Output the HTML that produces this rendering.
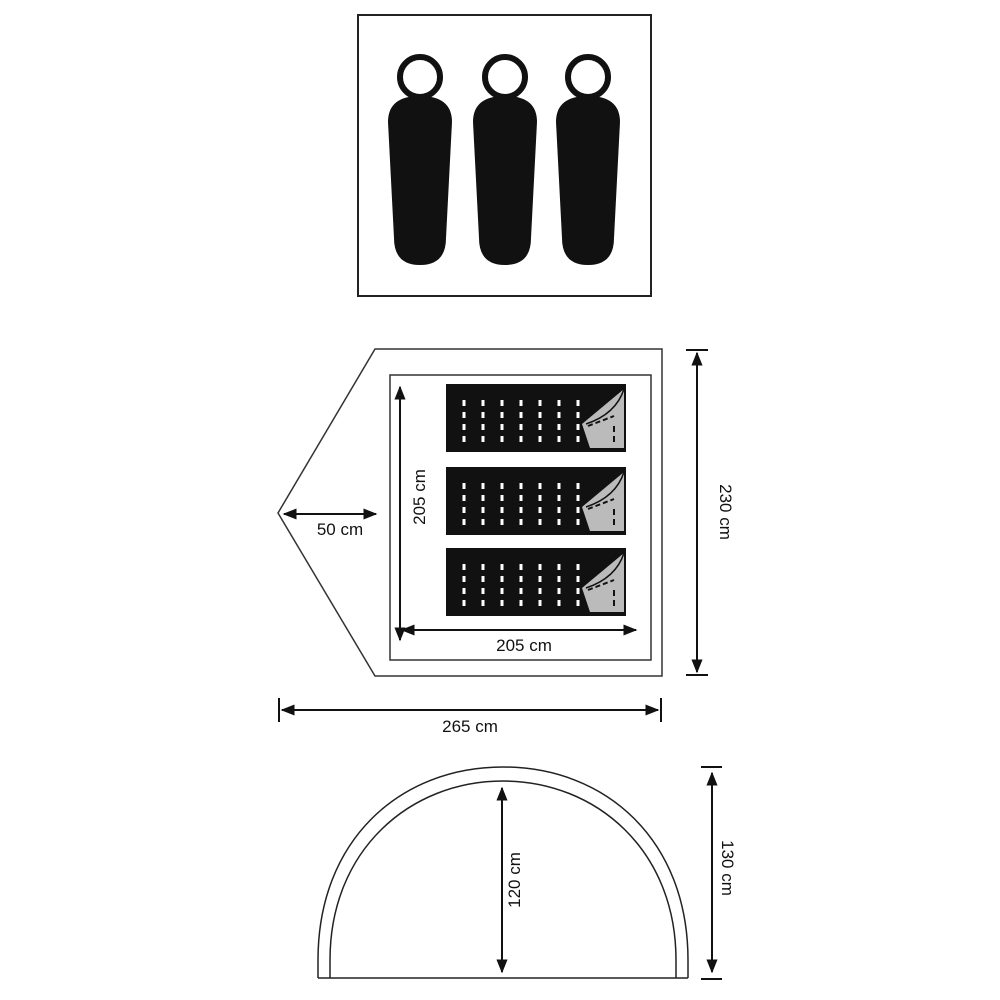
<!DOCTYPE html>
<html><head><style>html,body{margin:0;padding:0;background:#fff}svg{display:block}</style></head>
<body>
<svg width="1000" height="1000" viewBox="0 0 1000 1000" xmlns="http://www.w3.org/2000/svg">
<defs>
<marker id="a" viewBox="0 0 10 10" refX="9" refY="5" markerWidth="7" markerHeight="7" orient="auto-start-reverse"><path d="M0,1 L10,5 L0,9 Z" fill="#111"/></marker>
<g id="bag">
<rect x="0" y="0" width="180" height="68" fill="#111"/>
<g stroke="#fff" stroke-width="3" stroke-dasharray="6,6">
<line x1="18" y1="16" x2="18" y2="58"/><line x1="37" y1="16" x2="37" y2="58"/><line x1="56" y1="16" x2="56" y2="58"/><line x1="75" y1="16" x2="75" y2="58"/><line x1="94" y1="16" x2="94" y2="58"/><line x1="113" y1="16" x2="113" y2="58"/><line x1="132" y1="16" x2="132" y2="58"/>
</g>
<path d="M178,5 L136,40 L144,64 L178,64 Z" fill="#bbb"/>
<path d="M178,5 Q170,30 140,40" stroke="#111" stroke-width="1.5" fill="none"/>
<line x1="142" y1="42" x2="168" y2="32" stroke="#111" stroke-width="2" stroke-dasharray="5,3"/>
<line x1="168" y1="42" x2="168" y2="62" stroke="#111" stroke-width="2" stroke-dasharray="6,4"/>
</g>
<g id="sb">
<circle cx="0" cy="77" r="20" fill="none" stroke="#111" stroke-width="6"/>
<path d="M-32,122 Q-32,96 0,96 Q32,96 32,122 L26,238 Q26,265 0,265 Q-26,265 -26,238 Z" fill="#111"/>
</g>
</defs>
<rect x="358" y="15" width="293" height="281" fill="none" stroke="#222" stroke-width="2"/>
<use href="#sb" x="420"/><use href="#sb" x="505"/><use href="#sb" x="588"/>

<path d="M375,349 L662,349 L662,676 L375,676 L278,513 Z" fill="none" stroke="#333" stroke-width="1.5"/>
<rect x="390" y="375" width="261" height="285" fill="none" stroke="#333" stroke-width="1.5"/>
<use href="#bag" x="446" y="384"/><use href="#bag" x="446" y="467"/><use href="#bag" x="446" y="548"/>

<g stroke="#111" stroke-width="2" fill="none">
<line x1="400" y1="387" x2="400" y2="640" marker-start="url(#a)" marker-end="url(#a)"/>
<line x1="402" y1="630" x2="636" y2="630" marker-start="url(#a)" marker-end="url(#a)"/>
<line x1="284" y1="514" x2="376" y2="514" marker-start="url(#a)" marker-end="url(#a)"/>
<line x1="697" y1="353" x2="697" y2="672" marker-start="url(#a)" marker-end="url(#a)"/>
<line x1="686" y1="350" x2="708" y2="350"/><line x1="686" y1="675" x2="708" y2="675"/>
<line x1="282" y1="710" x2="658" y2="710" marker-start="url(#a)" marker-end="url(#a)"/>
<line x1="279" y1="698" x2="279" y2="722"/><line x1="661" y1="698" x2="661" y2="722"/>
</g>
<g font-family="Liberation Sans, sans-serif" font-size="17" fill="#111">
<text x="340" y="535" text-anchor="middle">50 cm</text>
<text x="524" y="651" text-anchor="middle">205 cm</text>
<text x="470" y="732" text-anchor="middle">265 cm</text>
<text transform="translate(425,497) rotate(-90)" text-anchor="middle">205 cm</text>
<text transform="translate(720,512) rotate(90)" text-anchor="middle">230 cm</text>
<text transform="translate(520,880) rotate(-90)" text-anchor="middle">120 cm</text>
<text transform="translate(722,868) rotate(90)" text-anchor="middle">130 cm</text>
</g>

<g stroke="#222" stroke-width="1.5" fill="none">
<path d="M318,978 L318,960 C318,840 400,767 503,767 C606,767 688,840 688,960 L688,978"/>
<path d="M330,978 L330,960 C330,850 410,781 503,781 C596,781 676,850 676,960 L676,978"/>
<line x1="318" y1="978" x2="688" y2="978"/>
</g>
<g stroke="#111" stroke-width="2" fill="none">
<line x1="502" y1="788" x2="502" y2="972" marker-start="url(#a)" marker-end="url(#a)"/>
<line x1="712" y1="773" x2="712" y2="972" marker-start="url(#a)" marker-end="url(#a)"/>
<line x1="701" y1="767" x2="722" y2="767"/><line x1="701" y1="979" x2="722" y2="979"/>
</g>
</svg>
</body></html>
